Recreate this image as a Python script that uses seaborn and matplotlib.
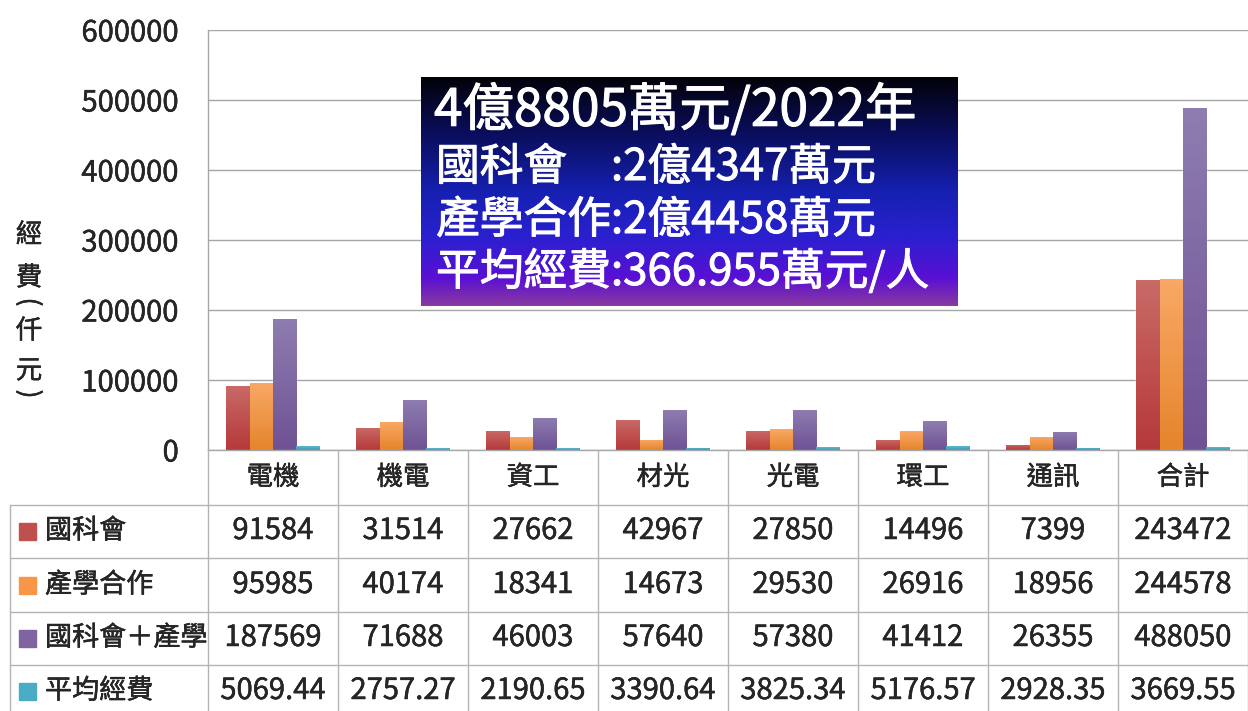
'''
    plot.py
    Research funding per department (2022), bar chart with data table.
'''
import numpy as np
import pandas as pd
import seaborn as sns
import matplotlib.pyplot as plt
import matplotlib.patheffects as pe
from matplotlib.lines import Line2D
from matplotlib.patches import Rectangle
from matplotlib.colors import LinearSegmentedColormap

#################################################################################
# Data
#################################################################################

departments = ['電機', '機電', '資工', '材光', '光電', '環工', '通訊', '合計']
series_names = ['國科會', '產學合作', '國科會＋產學', '平均經費']

nstc = [91584, 31514, 27662, 42967, 27850, 14496, 7399, 243472]
industry = [95985, 40174, 18341, 14673, 29530, 26916, 18956, 244578]
combined = [187569, 71688, 46003, 57640, 57380, 41412, 26355, 488050]
average = [5069.44, 2757.27, 2190.65, 3390.64, 3825.34, 5176.57, 2928.35, 3669.55]

yticks = [0, 100000, 200000, 300000, 400000, 500000, 600000]

summary_lines = ['4億8805萬元/2022年',
                 '國科會\u3000:2億4347萬元',
                 '產學合作:2億4458萬元',
                 '平均經費:366.955萬元/人']

PALETTE = ['#C0504D', '#F79646', '#8064A2', '#4BACC6']
GRAD_TOP = ['#C96A67', '#F9A866', '#8E7DB0', '#5DB8D0']
GRAD_BOT = ['#B5393A', '#E5852C', '#6F5295', '#3A9BB5']

#################################################################################
# Figure
#################################################################################

W, H = 1248, 711

def fx(x):
    return x / W

def fy(y):
    return 1 - y / H

# slightly heavier strokes, closer to the original office font
def heavy(color='black', lw=0.3):
    return [pe.withStroke(linewidth=lw, foreground=color)]

sns.set_style('white')
plt.rcParams['font.family'] = ['Noto Sans CJK TC', 'DejaVu Sans']

fig = plt.figure(figsize=(W / 100, H / 100), dpi=100)
ax = fig.add_axes([fx(208), fy(450), fx(1040), 420 / H])

values = [nstc, industry, combined, average]
df = pd.DataFrame({
    'dept': np.tile(departments, len(series_names)),
    'series': np.repeat(series_names, len(departments)),
    'value': np.concatenate(values),
})

sns.barplot(data=df, x='dept', y='value', hue='series', order=departments,
            hue_order=series_names, palette=PALETTE, saturation=1,
            width=0.72, gap=0, legend=False, errorbar=None, ax=ax)

# vertical gradient fill for each bar
for i, bar in enumerate(ax.patches):
    s = i // len(departments)
    if s >= len(series_names):
        continue
    cmap = LinearSegmentedColormap.from_list('g', [GRAD_BOT[s], GRAD_TOP[s]])
    x0, y0 = bar.get_x(), bar.get_y()
    w, h = bar.get_width(), bar.get_height()
    grad = np.linspace(0, 1, 64).reshape(-1, 1)
    im = ax.imshow(grad, cmap=cmap, origin='lower', aspect='auto',
                   extent=[x0, x0 + w, y0, y0 + h], zorder=bar.get_zorder() + 0.1)
    im.set_clip_path(bar)
ax.set_xlim(-0.5, len(departments) - 0.5)
ax.set_ylim(0, 600000)

ax.set_yticks(yticks)
ax.set_yticklabels([str(t) for t in yticks])
ax.yaxis.grid(True, color='#A6A6A6', lw=1)
ax.set_axisbelow(True)
ax.tick_params(axis='y', length=0, pad=21, labelsize=21)
ax.tick_params(axis='x', length=0, pad=10, labelsize=19)
ax.set_xlabel('')
ax.set_ylabel('')
for lbl in ax.get_xticklabels() + ax.get_yticklabels():
    lbl.set_path_effects(heavy())
for side in ['top', 'right']:
    ax.spines[side].set_visible(False)
for side in ['left', 'bottom']:
    ax.spines[side].set_color('#A6A6A6')
    ax.spines[side].set_linewidth(1)

# y axis label, stacked vertically
ylab_chars = ['經', '費', '(', '仟', '元', ')']
ylab_y = [235, 278, 302, 331, 371, 394]
for ch, y in zip(ylab_chars, ylab_y):
    rot = -90 if ch in '()' else 0
    fig.text(fx(29), fy(y), ch, fontsize=19, ha='center', va='center',
             rotation=rot, path_effects=heavy())

#################################################################################
# Data table below the axes
#################################################################################

line_color = '#B4B4B4'
row_tops = [505, 558, 612, 665]
row_centers = [531, 585, 638, 691]

for y in row_tops:
    fig.add_artist(Line2D([fx(10), 1], [fy(y), fy(y)], color=line_color, lw=1))
fig.add_artist(Line2D([fx(10), fx(10)], [fy(505), 0], color=line_color, lw=1))
for i in range(len(departments) + 1):
    x = 208 + 130 * i
    fig.add_artist(Line2D([fx(x), fx(x)], [fy(450), 0], color=line_color, lw=1))

for s, name in enumerate(series_names):
    yc = row_centers[s]
    fig.add_artist(Rectangle((fx(19), fy(yc + 9)), 17 / W, 17 / H,
                             transform=fig.transFigure, color=PALETTE[s]))
    fig.text(fx(45), fy(yc), name, fontsize=19.5, ha='left', va='center',
             path_effects=heavy())
    for i, v in enumerate(values[s]):
        label = '%.2f' % v if s == 3 else '%d' % v
        fig.text(fx(273 + 130 * i), fy(yc), label, fontsize=21,
                 ha='center', va='center', path_effects=heavy())

#################################################################################
# Summary box with gradient background
#################################################################################

bax = fig.add_axes([fx(421), fy(306), 537 / W, 229 / H])
box_cmap = LinearSegmentedColormap.from_list('box', [
    (0.0, '#020208'), (0.25, '#0A0E5C'), (0.5, '#1620B0'),
    (0.7, '#2A20D0'), (0.88, '#5A10D4'), (1.0, '#8A3AA0')])
bax.imshow(np.linspace(0, 1, 256).reshape(-1, 1), cmap=box_cmap, aspect='auto')
bax.set_axis_off()

fig.text(fx(434), fy(111), summary_lines[0], fontsize=37, color='white',
         ha='left', va='center', path_effects=heavy('white', 0.8))
for k, yc in enumerate([167, 220, 272]):
    fig.text(fx(436), fy(yc), summary_lines[k + 1], fontsize=31.5,
             color='white', ha='left', va='center',
             path_effects=heavy('white', 0.7))

plt.savefig('out.png', dpi=100)
